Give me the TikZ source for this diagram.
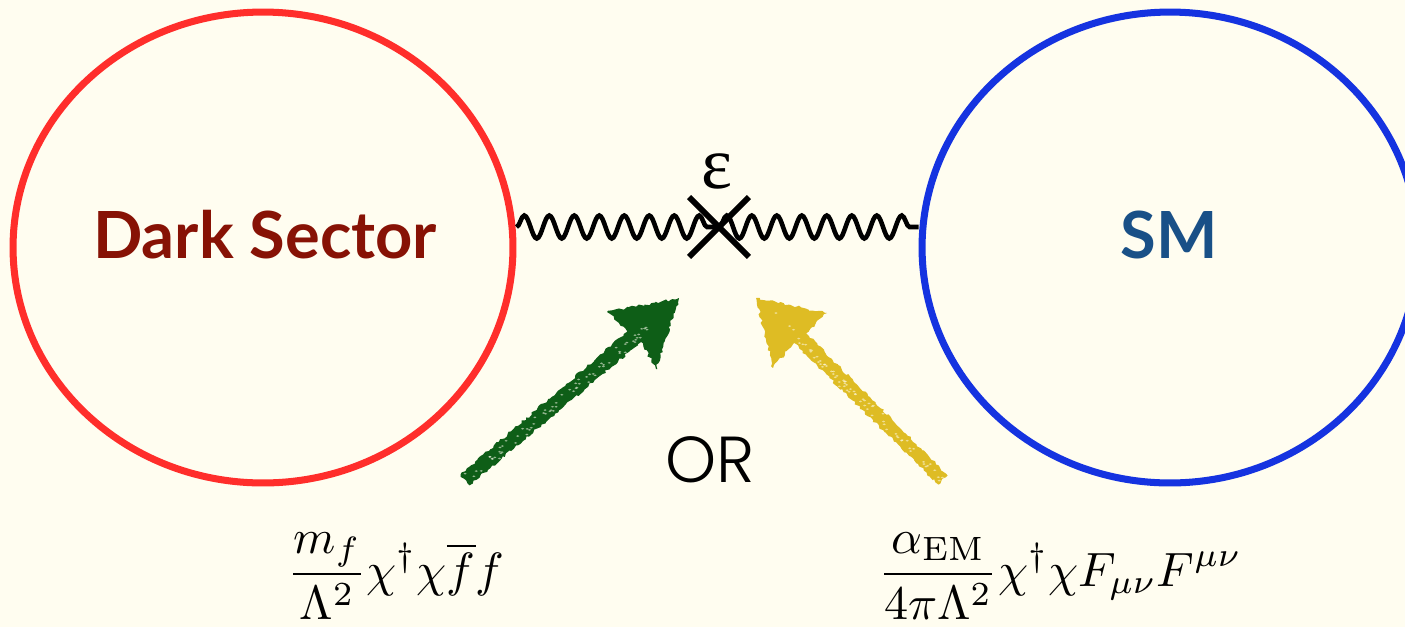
\documentclass[tikz,border=0pt]{standalone}
\usepackage{graphicx}
\usepackage{fontspec}
\usetikzlibrary{shapes.geometric,shapes.misc,decorations.pathmorphing,calc}
\newfontfamily\labelfont{Lato}
\newfontfamily\orfont{Poppins Light}
\newfontfamily\epsfont{Liberation Serif}
\definecolor{bg}{RGB}{255,253,240}
\definecolor{dsred}{RGB}{255,46,43}
\definecolor{smblue}{RGB}{21,51,224}
\definecolor{dstext}{RGB}{135,18,5}
\definecolor{smtext}{RGB}{25,80,135}
\definecolor{chalkgreen}{RGB}{14,94,23}
\definecolor{chalkyellow}{RGB}{222,188,36}
\begin{document}
\begin{tikzpicture}[x=0.02cm,y=-0.02cm,
  sector/.style={ellipse, line width=4pt, inner sep=0pt},
  sectorlabel/.style={font=\labelfont\bfseries\fontsize{37}{42}\selectfont, anchor=base},
  wave/.style={line width=2.6pt, decorate, decoration={snake, segment length=0.5cm, amplitude=0.23cm}},
  chalk/.style={decorate, decoration={random steps, segment length=1.6pt, amplitude=0.8pt}},
  speck/.style={fill=bg, opacity=0.55},
  formula/.style={inner sep=0pt}]
\fill[bg] (0,0) rectangle (1405,627);
\useasboundingbox (0,0) rectangle (1405,627);
\clip (0,0) rectangle (1405,627);
\pgfmathsetseed{7}
% sectors
\node[sector, draw=dsred, minimum width=10cm, minimum height=9.42cm] (dark) at (263,247.5) {};
\node[sector, draw=smblue, minimum width=9.92cm, minimum height=9.42cm] (sm) at (1170,247.5) {};
\node[sectorlabel, text=dstext] (dslabel) at (265,258) {Dark Sector};
\node[sectorlabel, text=smtext] (smlabel) at (1169,258) {SM};
% mixing
\node[cross out, draw, line width=3.3pt, minimum size=1.08cm, inner sep=0pt] (cross) at (719,227) {};
\draw[wave] (dark.east |- cross.center) -- (cross.center);
\draw[wave] (cross.center) -- (sm.west |- cross.center);
\node[font=\epsfont\fontsize{42}{46}\selectfont, anchor=base] (eps) at (717,188) {ε};
% chalk arrows
\fill[chalkgreen, chalk] (469.5,485.3) -- (460.5,474.7) -- (628,331) -- (607,312) -- (679,298) -- (656,369) -- (641,342) -- cycle;
\fill[chalkyellow, chalk] (938.4,484.6) -- (947.6,475.4) -- (806,333) -- (827,313) -- (756,298) -- (773,368) -- (794,343) -- cycle;
\coordinate (gA) at (465,480); \coordinate (gB) at (660,318);
\coordinate (yA) at (943,480); \coordinate (yB) at (775,316);
\foreach \i in {1,...,70}{
  \pgfmathsetmacro\t{rnd}
  \pgfmathsetmacro\dx{rand*4}
  \pgfmathsetmacro\dy{rand*4}
  \fill[speck] ($(gA)!\t!(gB)+(\dx,\dy)$) ellipse (0.9pt and 0.5pt);
  \pgfmathsetmacro\s{rnd}
  \pgfmathsetmacro\ex{rand*4}
  \pgfmathsetmacro\ey{rand*4}
  \fill[speck] ($(yA)!\s!(yB)+(\ex,\ey)$) ellipse (0.9pt and 0.5pt);
}
\node[font=\orfont\fontsize{37}{40}\selectfont, anchor=base] (or) at (710,482) {OR};
% operators
\node[formula] (f1) at (396,576) {\scalebox{2.74}{$\displaystyle\frac{m_f}{\Lambda^2}\chi^\dagger\chi\overline{f}f$}};
\node[formula] (f2) at (1060,576) {\scalebox{2.74}{$\displaystyle\frac{\alpha_{\mathrm{EM}}}{4\pi\Lambda^2}\chi^\dagger\chi F_{\mu\nu}F^{\mu\nu}$}};
\end{tikzpicture}
\end{document}
